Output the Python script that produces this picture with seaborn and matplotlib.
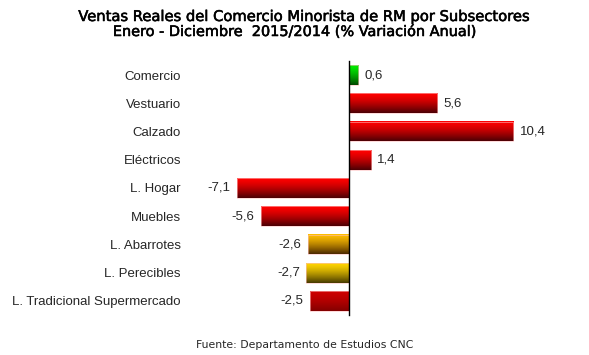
import numpy as np
import pandas as pd
import matplotlib
matplotlib.use("Agg")
import matplotlib.pyplot as plt
import matplotlib.patheffects as pe
import seaborn as sns

categories = ["Comercio", "Vestuario", "Calzado", "Eléctricos", "L. Hogar",
              "Muebles", "L. Abarrotes", "L. Perecibles", "L. Tradicional Supermercado"]
values = [0.6, 5.6, 10.4, 1.4, -7.1, -5.6, -2.6, -2.7, -2.5]
value_labels = ["0,6", "5,6", "10,4", "1,4", "-7,1", "-5,6", "-2,6", "-2,7", "-2,5"]

# gradient colours (top, bottom) per bar
top_colors = [(0, 235, 0), (255, 0, 0), (255, 0, 0), (255, 0, 0), (255, 0, 0),
              (255, 0, 0), (255, 190, 0), (255, 212, 0), (205, 0, 0)]
bottom_colors = [(0, 70, 0), (75, 0, 5), (75, 0, 5), (75, 0, 5), (75, 0, 5),
                 (75, 0, 5), (75, 40, 0), (70, 58, 0), (130, 0, 0)]

df = pd.DataFrame({"cat": categories, "val": values})

sns.set_style("white")
plt.rcParams["font.family"] = ["Liberation Sans", "DejaVu Sans"]

fig = plt.figure(figsize=(5.89, 3.55), dpi=100)
ax = fig.add_axes([222.6 / 589, 40 / 355, 316 / 589, 254 / 355])

palette = {c: tuple(v / 255 for v in col) for c, col in zip(categories, top_colors)}
sns.barplot(data=df, y="cat", x="val", hue="cat", palette=palette, legend=False,
            orient="h", width=0.7, ax=ax, order=categories, hue_order=categories)

# gradient overlay on each bar
n = 100
t = np.linspace(0, 1, n)
shape = t ** 1.4
for i, cont in enumerate(ax.containers):
    for p in cont.patches:
        x0, y0 = p.get_x(), p.get_y()
        w, h = p.get_width(), p.get_height()
        tc = np.array(top_colors[i]) / 255
        bc = np.array(bottom_colors[i]) / 255
        grad = (tc[None, :] * (1 - shape[:, None]) + bc[None, :] * shape[:, None])
        grad = np.repeat(grad[:, None, :], 2, axis=1)
        xl, xr = min(x0, x0 + w), max(x0, x0 + w)
        ax.imshow(grad, extent=[xl, xr, y0 + h, y0], origin="upper",
                  aspect="auto", interpolation="bilinear", zorder=3)
        p.set_facecolor("none")
        p.set_edgecolor((1, 0.75, 0.75))
        p.set_linewidth(0.4)
        p.set_zorder(4)

ax.set_xlim(-8, 12)
ax.set_ylim(len(categories) - 0.5, -0.5)

# value labels
for i, (v, lab) in enumerate(zip(values, value_labels)):
    if v >= 0:
        ax.text(v + 0.4, i, lab, va="center", ha="left", fontsize=9.5)
    else:
        ax.text(v - 0.4, i, lab, va="center", ha="right", fontsize=9.5)

for s in ["top", "right", "bottom"]:
    ax.spines[s].set_visible(False)
ax.spines["left"].set_position(("data", 0))
ax.spines["left"].set_color("black")
ax.spines["left"].set_linewidth(1.0)
ax.spines["left"].set_zorder(5)

ax.set_xticks([])
ax.set_xlabel("")
ax.set_ylabel("")
ax.set_yticks(range(len(categories)))
ax.set_yticklabels(categories, fontsize=9.5)
ax.tick_params(axis="y", which="major", length=0, pad=121)
ax.set_yticks(np.arange(-0.5, len(categories), 1.0), minor=True)
ax.tick_params(axis="y", which="minor", length=4, width=1, color="black", direction="out")

stroke = [pe.withStroke(linewidth=0.4, foreground="black")]
fig.text(306 / 589, 1 - 21 / 355, "Ventas Reales del Comercio Minorista de RM por Subsectores",
         ha="center", va="baseline", fontsize=10.6, color="black",
         family=["DejaVu Sans"], path_effects=stroke)
fig.text(294 / 589, 1 - 36 / 355, "Enero - Diciembre  2015/2014 (% Variación Anual)",
         ha="center", va="baseline", fontsize=10.4, color="black",
         family=["DejaVu Sans"], path_effects=stroke)
fig.text(305 / 589, 0.027, "Fuente: Departamento de Estudios CNC", ha="center",
         va="center", fontsize=7.8, family=["DejaVu Sans"])

fig.savefig("out.png", dpi=100, facecolor="white")
